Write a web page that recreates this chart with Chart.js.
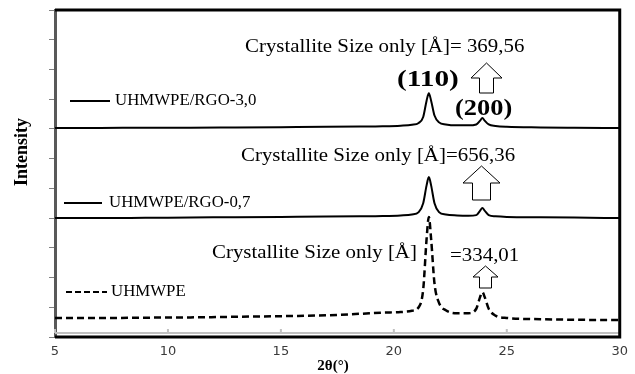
<!DOCTYPE html>
<html>
<head>
<meta charset="utf-8">
<script src="https://cdn.jsdelivr.net/npm/chart.js@4"></script>
<style>body{margin:0;background:#fff}</style>
</head>
<body>
<canvas id="xrd" width="635" height="374"></canvas>
<script>
// 2-theta positions (deg) and the three diffraction curves
const angles = [5, 7, 9, 11, 13, 15, 17, 18.5, 19.5, 20.3, 20.8, 21.1, 21.3, 21.45, 21.55, 21.65, 21.8, 22.0, 22.3, 22.8, 23.3, 23.65, 23.82, 23.92, 24.02, 24.2, 24.5, 25.0, 26.5, 28, 30];
const rgo30 = [7.03, 7.03, 7.04, 7.04, 7.05, 7.06, 7.07, 7.08, 7.09, 7.11, 7.14, 7.2, 7.4, 7.95, 8.2, 7.95, 7.45, 7.22, 7.15, 7.12, 7.12, 7.15, 7.28, 7.37, 7.28, 7.15, 7.1, 7.07, 7.05, 7.04, 7.03];
const rgo07 = [4.0, 4.0, 4.01, 4.02, 4.03, 4.04, 4.05, 4.06, 4.07, 4.09, 4.12, 4.2, 4.5, 5.1, 5.38, 5.1, 4.5, 4.2, 4.12, 4.09, 4.08, 4.1, 4.25, 4.34, 4.25, 4.1, 4.06, 4.04, 4.03, 4.02, 4.0];
const pure = [0.64, 0.64, 0.65, 0.66, 0.68, 0.7, 0.73, 0.78, 0.82, 0.84, 0.88, 1.0, 1.6, 3.3, 4.04, 3.3, 1.8, 1.15, 0.9, 0.8, 0.8, 0.95, 1.35, 1.51, 1.35, 0.95, 0.72, 0.64, 0.6, 0.58, 0.57];

const seriesNames = ['UHMWPE/RGO-3,0', 'UHMWPE/RGO-0,7', 'UHMWPE'];
const xTicks = [5, 10, 15, 20, 25, 30];
const sizeTexts = ['Crystallite Size only [Å]= 369,56', 'Crystallite Size only [Å]=656,36', 'Crystallite Size only [Å]', '=334,01'];
const planes = ['(110)', '(200)'];

const SERIF = '"Liberation Serif", "Times New Roman", serif';

function toPoints(ys) {
    return angles.map((a, i) => ({ x: a, y: ys[i] }));
}

// text stretched sideways a bit, like the original figure
function wideText(ctx, txt, x, y, font, sx) {
    ctx.save();
    ctx.font = font;
    ctx.translate(x, y);
    ctx.scale(sx, 1);
    ctx.fillText(txt, 0, 0);
    ctx.restore();
}

// outline up-arrow, white inside
function upArrow(ctx, cx, tipY, headHalf, baseY, stemHalf, bottomY) {
    ctx.beginPath();
    ctx.moveTo(cx, tipY);
    ctx.lineTo(cx + headHalf, baseY);
    ctx.lineTo(cx + stemHalf, baseY);
    ctx.lineTo(cx + stemHalf, bottomY);
    ctx.lineTo(cx - stemHalf, bottomY);
    ctx.lineTo(cx - stemHalf, baseY);
    ctx.lineTo(cx - headHalf, baseY);
    ctx.closePath();
    ctx.fillStyle = '#fff';
    ctx.fill();
    ctx.strokeStyle = '#000';
    ctx.lineWidth = 1;
    ctx.stroke();
}

const decorations = {
    id: 'decorations',
    beforeDraw(chart) {
        const ctx = chart.ctx;
        ctx.save();
        ctx.fillStyle = '#fff';
        ctx.fillRect(0, 0, chart.width, chart.height);
        ctx.restore();
    },
    afterDraw(chart) {
        const ctx = chart.ctx;
        const a = chart.chartArea;
        const xs = chart.scales.x;
        ctx.save();

        // light axis line with small ticks
        ctx.strokeStyle = '#c0c0c0';
        ctx.lineWidth = 2;
        ctx.beginPath();
        ctx.moveTo(a.left, a.bottom - 4);
        ctx.lineTo(a.right, a.bottom - 4);
        xTicks.forEach(t => {
            const px = xs.getPixelForValue(t);
            ctx.moveTo(px, a.bottom - 4);
            ctx.lineTo(px, a.bottom - 8);
        });
        ctx.stroke();

        // frame
        ctx.strokeStyle = '#000';
        ctx.lineWidth = 3;
        ctx.beginPath();
        ctx.moveTo(a.left, a.top);
        ctx.lineTo(a.right, a.top);
        ctx.lineTo(a.right, a.bottom);
        ctx.lineTo(a.left, a.bottom);
        ctx.stroke();

        // legend entries
        ctx.lineWidth = 2;
        ctx.beginPath();
        ctx.moveTo(70, 101); ctx.lineTo(110, 101);
        ctx.moveTo(64, 203); ctx.lineTo(102, 203);
        ctx.stroke();
        ctx.setLineDash([6, 3]);
        ctx.beginPath();
        ctx.moveTo(66, 292); ctx.lineTo(107, 292);
        ctx.stroke();
        ctx.setLineDash([]);

        ctx.fillStyle = '#000';
        ctx.textBaseline = 'middle';
        ctx.textAlign = 'left';
        const legFont = '16px ' + SERIF;
        wideText(ctx, seriesNames[0], 115, 101, legFont, 1.05);
        wideText(ctx, seriesNames[1], 109, 203, legFont, 1.05);
        wideText(ctx, seriesNames[2], 111, 292, legFont, 1.05);

        // crystallite size notes
        const noteFont = '19px ' + SERIF;
        wideText(ctx, sizeTexts[0], 245, 47, noteFont, 1.1);
        wideText(ctx, sizeTexts[1], 241, 156, noteFont, 1.1);
        wideText(ctx, sizeTexts[2], 212, 253, noteFont, 1.1);
        wideText(ctx, sizeTexts[3], 450, 256, noteFont, 1.1);

        const planeFont = 'bold 24px ' + SERIF;
        wideText(ctx, planes[0], 397, 80, planeFont, 1.22);
        wideText(ctx, planes[1], 455, 109, planeFont, 1.1);

        upArrow(ctx, 486.5, 63, 15.5, 78, 7, 93);
        upArrow(ctx, 481.5, 166, 18.5, 183, 9, 200);
        upArrow(ctx, 485.5, 266, 12.5, 277, 6, 288);

        // axis titles
        ctx.fillStyle = '#000';
        ctx.font = 'bold 15px ' + SERIF;
        ctx.textAlign = 'center';
        ctx.fillText('2θ(°)', 333, 366);
        ctx.translate(22, 152);
        ctx.rotate(-Math.PI / 2);
        ctx.font = 'bold 18px ' + SERIF;
        ctx.fillText('Intensity', 0, 0);
        ctx.restore();
    }
};

const chart = new Chart(document.getElementById('xrd').getContext('2d'), {
    type: 'line',
    data: {
        datasets: [
            { label: seriesNames[0], data: toPoints(rgo30), borderColor: '#000', borderWidth: 2 },
            { label: seriesNames[1], data: toPoints(rgo07), borderColor: '#000', borderWidth: 2 },
            { label: seriesNames[2], data: toPoints(pure), borderColor: '#000', borderWidth: 2.5, borderDash: [7, 4] }
        ]
    },
    options: {
        responsive: false,
        animation: false,
        devicePixelRatio: 1,
        layout: { padding: { top: 10, right: 14, left: 0, bottom: 0 } },
        elements: {
            point: { radius: 0 },
            line: { cubicInterpolationMode: 'monotone', fill: false }
        },
        plugins: {
            legend: { display: false },
            tooltip: { enabled: false }
        },
        scales: {
            x: {
                type: 'linear',
                min: 5,
                max: 30,
                afterBuildTicks: (s) => { s.ticks = xTicks.map(v => ({ value: v })); },
                ticks: { color: '#3a3a3a', padding: 7, font: { family: '"DejaVu Sans", Verdana, sans-serif', size: 13 } },
                grid: { drawOnChartArea: false, drawTicks: false },
                border: { display: false },
                afterFit: (s) => { s.height = 37; }
            },
            y: {
                min: 0,
                max: 11,
                ticks: { display: false, stepSize: 1 },
                grid: { drawOnChartArea: false, tickLength: 6, color: '#808080' },
                border: { color: '#595959', width: 3 },
                afterFit: (s) => { s.width = 55; }
            }
        }
    },
    plugins: [decorations]
});
</script>
</body>
</html>
